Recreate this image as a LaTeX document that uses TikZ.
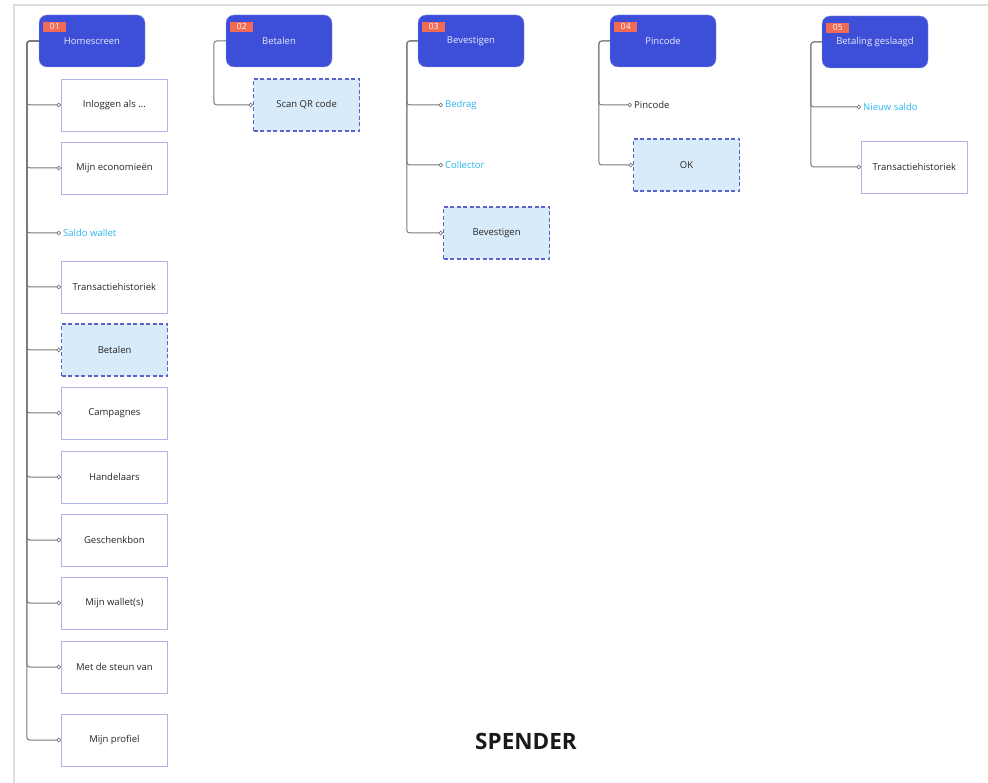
\documentclass[tikz,border=0pt]{standalone}
\usepackage{fontspec}
\setmainfont{Open Sans}
\usetikzlibrary{arrows.meta}

\definecolor{hdrblue}{HTML}{3D4FD9}
\definecolor{badge}{HTML}{F06A55}
\definecolor{boxline}{HTML}{AEB4EA}
\definecolor{dashline}{HTML}{5B64CC}
\definecolor{dashfill}{HTML}{D8EBFA}
\definecolor{linkcyan}{HTML}{2BB5F0}
\definecolor{conngray}{HTML}{7A7A7A}
\definecolor{framegray}{HTML}{DDDDDD}

\tikzset{
  screen/.style={draw=hdrblue!60!white, fill=hdrblue, rounded corners=8pt,
    minimum width=106pt, minimum height=52pt, inner sep=0pt,
    text=white!88!hdrblue, font=\fontsize{9.5}{11}\selectfont},
  tag/.style={fill=badge, text=white, minimum width=23pt, minimum height=10.5pt,
    inner sep=0pt, font=\fontsize{8.5}{9}\selectfont},
  item/.style={draw=boxline, fill=white, line width=0.8pt, minimum width=106pt,
    minimum height=52pt, anchor=west, text=black!85, font=\fontsize{9.5}{11}\selectfont},
  action/.style={item, draw=dashline, fill=dashfill, line width=1.2pt,
    dash pattern=on 4pt off 2.5pt},
  field/.style={anchor=west, inner sep=2pt, text=linkcyan, font=\fontsize{9.5}{11}\selectfont},
  plain/.style={field, text=black!85},
  conn/.style={draw=conngray, line width=1pt, rounded corners=3pt,
    -{Circle[open, length=4.5pt, width=4.5pt, line width=0.8pt]}},
}

\begin{document}
\begin{tikzpicture}[x=1pt,y=-1pt]
  \useasboundingbox (0,0) rectangle (988,783);
  % frame
  \draw[framegray, line width=1.5pt] (14,783) -- (14,5) -- (988,5);

  % screens
  \node[screen] (h1) at (92,41) {Homescreen};
  \node[screen] (h2) at (279,41) {Betalen};
  \node[screen] (h3) at (471,41) {Bevestigen};
  \node[screen] (h4) at (663,41) {Pincode};
  \node[screen] (h5) at (875,42) {Betaling geslaagd};
  \foreach \i in {1,...,5}
    \node[tag] (t\i) at ([xshift=16pt,yshift=-12pt]h\i.north west) {0\i};

  % 01 Homescreen
  \foreach \y/\txt/\st [count=\i] in {105/{Inloggen als ...}/item, 168/Mijn economieën/item,
      233/Saldo wallet/field, 287/Transactiehistoriek/item, 350/Betalen/action,
      413/Campagnes/item, 477/Handelaars/item, 540/Geschenkbon/item,
      603/Mijn wallet(s)/item, 667/Met de steun van/item, 740/Mijn profiel/item}{
    \node[\st] (a\i) at (61,\y) {\txt};
    \draw[conn] (h1.west) -- ++(-12,0) |- (a\i.west);
  }

  % 02 Betalen
  \node[action] (b1) at (253,105) {Scan QR code};
  \draw[conn] (h2.west) -- ++(-12,0) |- (b1.west);

  % 03 Bevestigen
  \node[field] (c1) at (443,105) {Bedrag};
  \node[field] (c2) at (443,165) {Collector};
  \node[action] (c3) at (443,233) {Bevestigen};
  \foreach \n in {c1,c2,c3}
    \draw[conn] (h3.west) -- ++(-11,0) |- (\n.west);

  % 04 Pincode
  \node[plain] (d1) at (632,105) {Pincode};
  \node[action] (d2) at (633,165) {OK};
  \foreach \n in {d1,d2}
    \draw[conn] (h4.west) -- ++(-11,0) |- (\n.west);

  % 05 Betaling geslaagd
  \node[field] (e1) at (861,107) {Nieuw saldo};
  \node[item] (e2) at (861,167) {Transactiehistoriek};
  \foreach \n in {e1,e2}
    \draw[conn] (h5.west) -- ++(-11,0) |- (\n.west);

  \node[font=\bfseries\fontsize{22.5}{26}\selectfont, text=black!90] (title) at (526,741) {SPENDER};
\end{tikzpicture}
\end{document}
